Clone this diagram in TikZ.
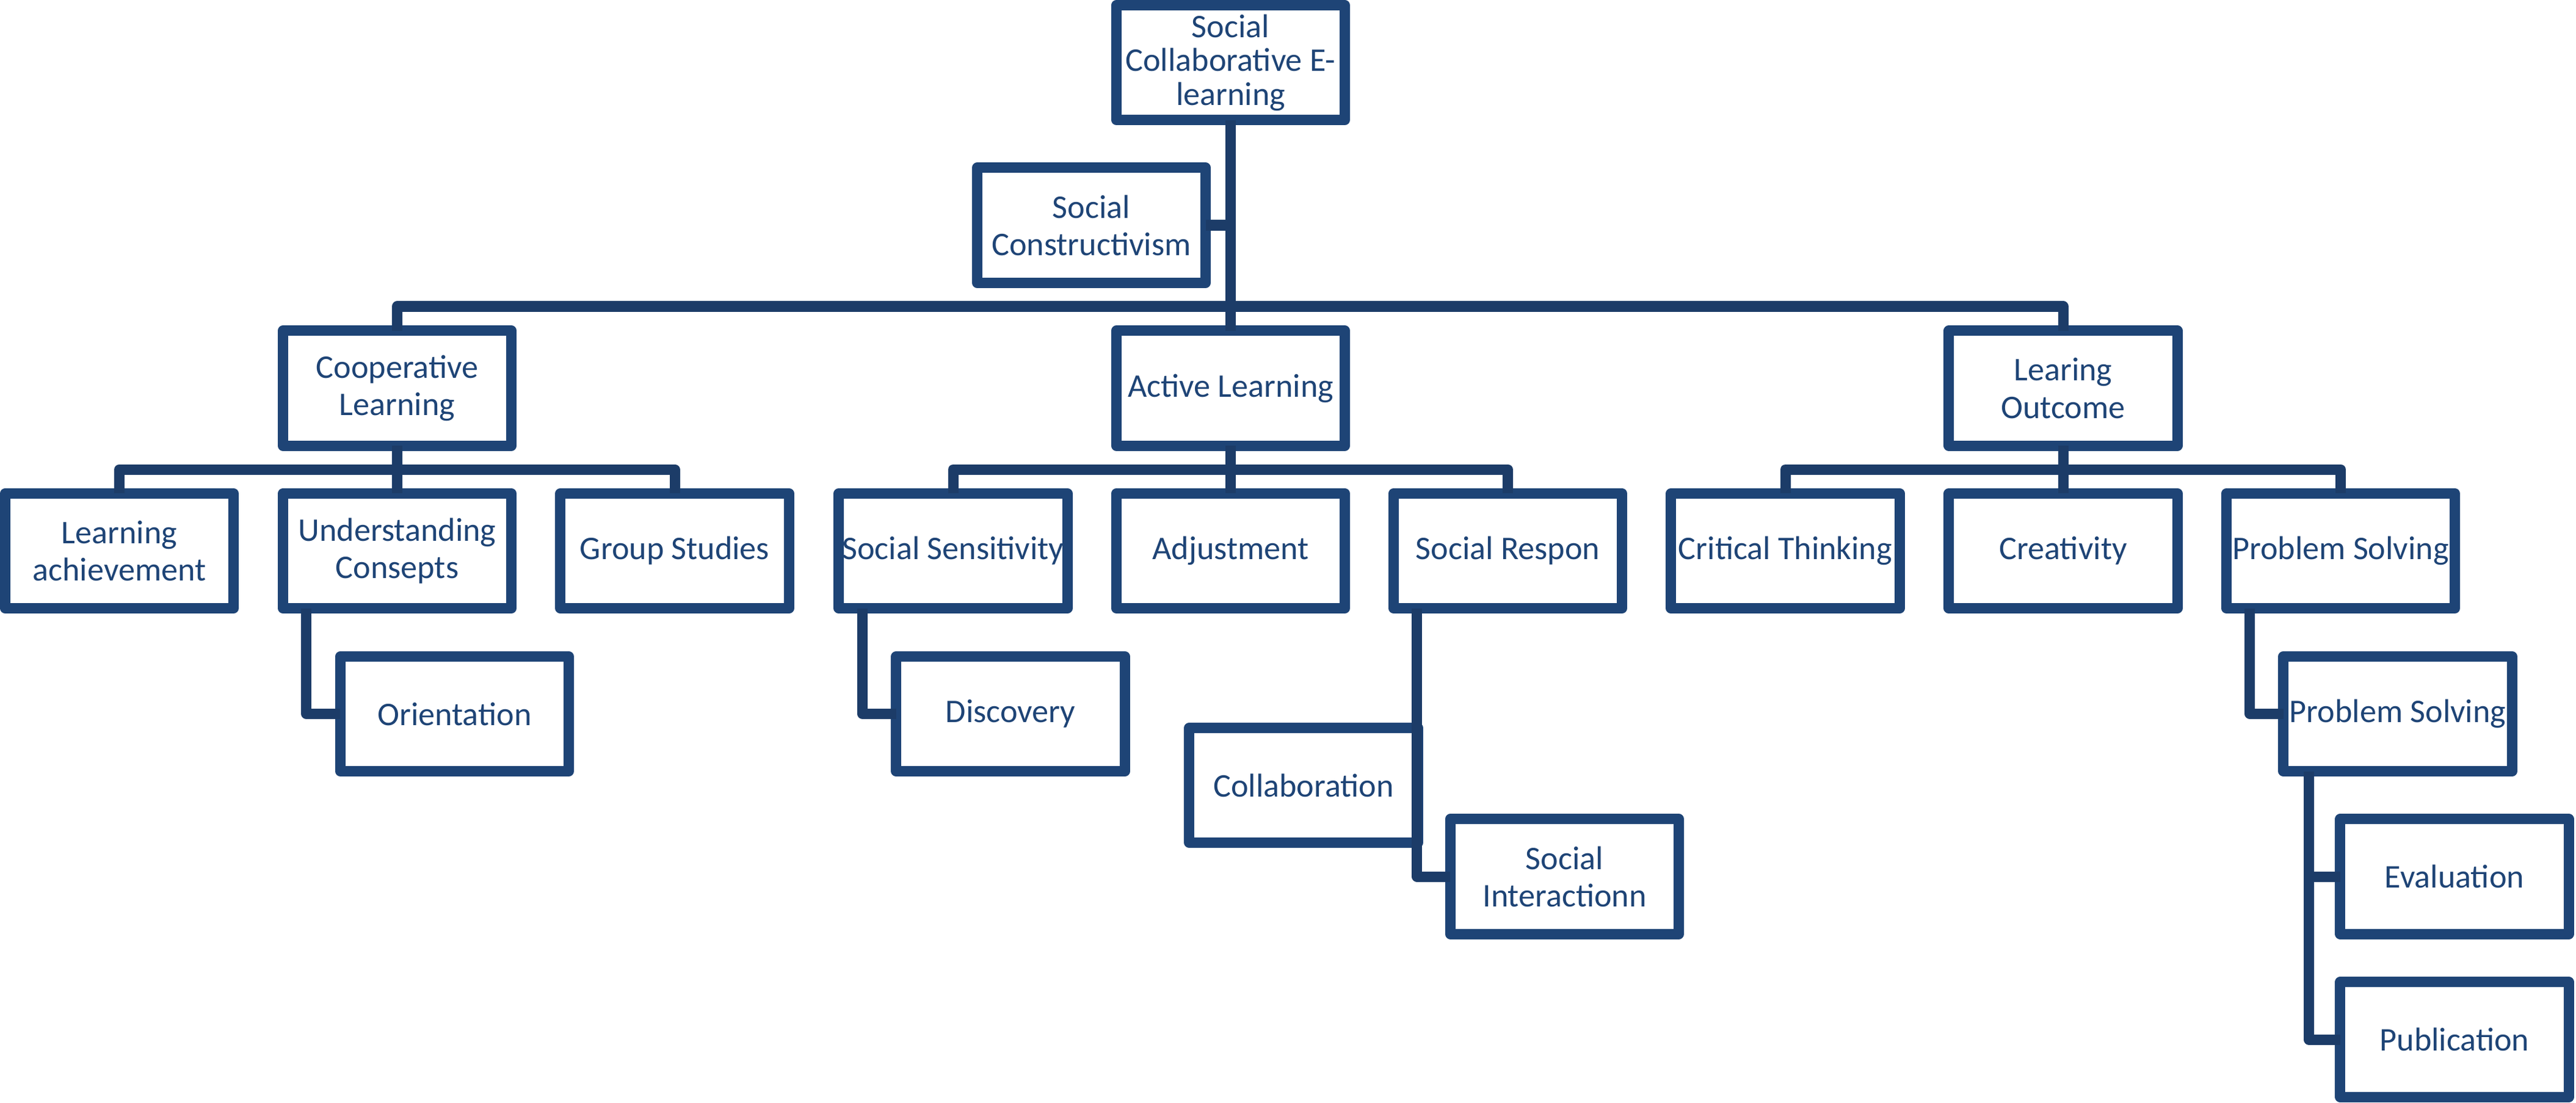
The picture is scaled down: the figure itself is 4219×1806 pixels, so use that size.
\documentclass[tikz,border=0pt]{standalone}
\usepackage{fontspec}
\setmainfont{Carlito}
\usetikzlibrary{calc}
\definecolor{boxblue}{RGB}{30,68,118}
\definecolor{linkblue}{RGB}{28,60,104}
\begin{document}
\begin{tikzpicture}[x=0.01cm,y=-0.01cm,
  box/.style={draw=boxblue, line width=0.17cm, line join=round, fill=white,
    rectangle, minimum width=3.74cm, minimum height=1.88cm, inner sep=0pt,
    outer sep=0pt, align=center, text=boxblue,
    font=\fontsize{15.4pt}{17.4pt}\selectfont},
  topbox/.style={box, font=\fontsize{15.4pt}{15.8pt}\selectfont},
  link/.style={draw=linkblue, line width=0.17cm, line join=round}]
\useasboundingbox (0,0) rectangle (4219,1806);
% level 0 and 1
\node[topbox] (top) at (2015.5,102.5) {Social\\Collaborative E-\\learning};
\node[box] (sc) at (1787.5,369) {Social\\Constructivism};
\node[box] (coop) at (650.5,636) {Cooperative\\Learning};
\node[box] (act) at (2015.5,636) {Active Learning};
\node[box] (lo) at (3379,636) {Learing\\Outcome};
% level 2
\node[box] (la) at (195.5,902.5) {Learning\\achievement};
\node[box] (uc) at (650.5,902.5) {Understanding\\Consepts};
\node[box] (gs) at (1105,902.5) {Group Studies};
\node[box] (ss) at (1561,902.5) {Social Sensitivity};
\node[box] (adj) at (2015.5,902.5) {Adjustment};
\node[box] (sr) at (2469.5,902.5) {Social Respon};
\node[box] (ct) at (2924,902.5) {Critical Thinking};
\node[box] (cr) at (3379,902.5) {Creativity};
\node[box] (ps) at (3833.5,902.5) {Problem Solving};
% level 3
\node[box] (ori) at (744.5,1169.5) {Orientation};
\node[box] (disc) at (1655,1169.5) {Discovery};
\node[box] (ps2) at (3927,1169.5) {Problem Solving};
\node[box] (collab) at (2135,1286.5) {Collaboration};
\node[box] (si) at (2562.5,1436) {Social\\Interactionn};
\node[box] (eval) at (4020,1436) {Evaluation};
\node[box] (pub) at (4020,1703) {Publication};
% bus coordinates
\coordinate (bus) at (2015.5,502);
\coordinate (cbus) at (2015.5,769);
% connectors
\draw[link] (top.south) -- (act.north);
\draw[link] (sc.east) -- (sc.east -| top.south);
\draw[link] (coop.north) -- (coop.north |- bus) -- (lo.north |- bus) -- (lo.north);
\draw[link] (la.north) -- (la.north |- cbus) -- (gs.north |- cbus) -- (gs.north);
\draw[link] (coop.south) -- (uc.north);
\draw[link] (ss.north) -- (ss.north |- cbus) -- (sr.north |- cbus) -- (sr.north);
\draw[link] (act.south) -- (adj.north);
\draw[link] (ct.north) -- (ct.north |- cbus) -- (ps.north |- cbus) -- (ps.north);
\draw[link] (lo.south) -- (cr.north);
\draw[link] ($(uc.south west)+(38.5,0)$) |- (ori.west);
\draw[link] ($(ss.south west)+(38.5,0)$) |- (disc.west);
\draw[link] ($(ps.south west)+(38.5,0)$) |- (ps2.west);
\draw[link] ($(sr.south west)+(38.5,0)$) |- (si.west);
\coordinate (ps2d) at ($(ps2.south west)+(41.5,0)$);
\draw[link] (ps2d) |- (pub.west);
\draw[link] (ps2d |- eval.west) -- (eval.west);
\end{tikzpicture}
\end{document}
